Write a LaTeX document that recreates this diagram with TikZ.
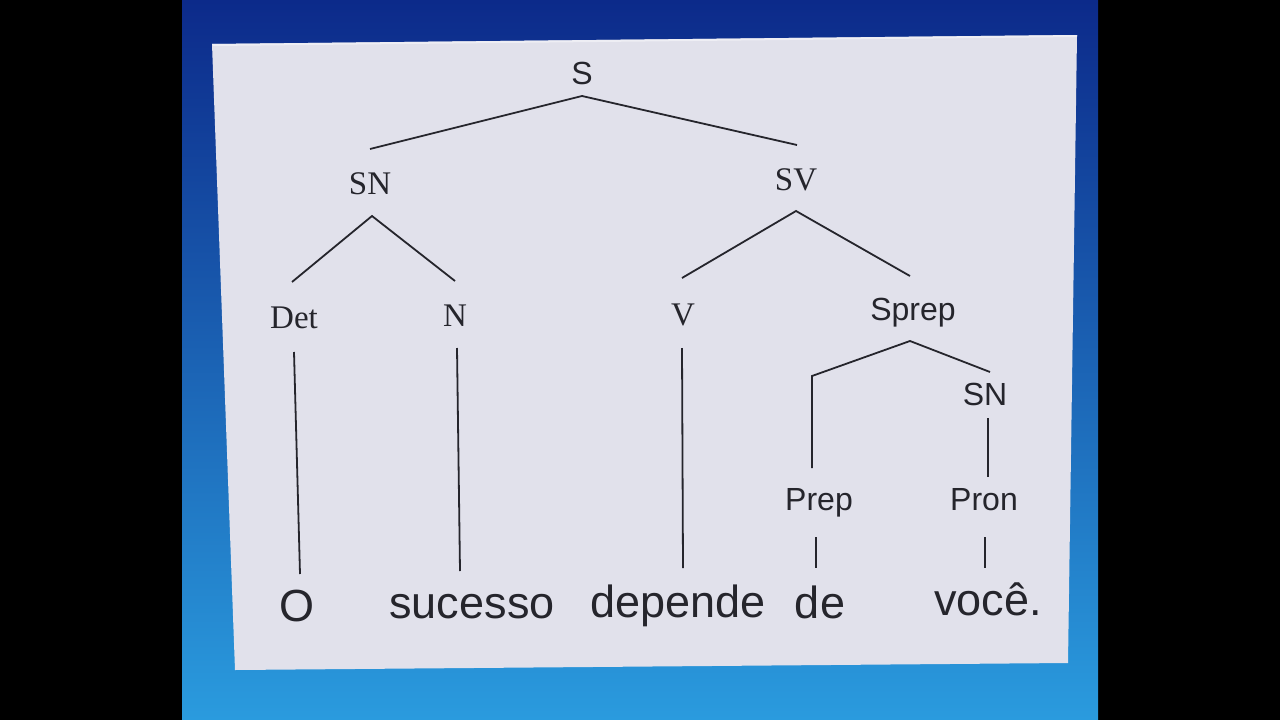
\documentclass[tikz,border=0pt]{standalone}
\usepackage{fontspec}
\setmainfont{Liberation Serif}
\newfontfamily\ars{Liberation Sans}
\definecolor{bgtop}{HTML}{0C2A8A}
\definecolor{bgmid}{HTML}{1652BE}
\definecolor{bgbot}{HTML}{2A9BDE}
\definecolor{panel}{HTML}{E1E1EB}
\definecolor{panedge}{HTML}{EEEEF4}
\definecolor{inkc}{HTML}{25252C}
\begin{document}
\begin{tikzpicture}[x=1pt,y=-1pt,
  ink/.style={draw=inkc, line width=1.8pt},
  lab/.style={anchor=base, inner sep=0pt, text=inkc},
  sanslab/.style={lab, font=\ars\fontsize{32}{38}\selectfont},
  seriflab/.style={lab, font=\fontsize{33}{39}\selectfont},
  word/.style={lab, font=\ars\fontsize{45}{54}\selectfont}]
\useasboundingbox (0,0) rectangle (1280,720);
\fill[black] (0,0) rectangle (1280,720);
\shade[top color=bgtop, middle color=bgmid, bottom color=bgbot]
  (182,0) rectangle (1098,720);
\fill[panel] (212,44) -- (1077,35) -- (1068,663) -- (235,670) -- cycle;
\fill[panedge] (212,44) -- (1077,35) -- (1077,37) -- (213,46) -- cycle;
% labels
\node[sanslab] (S) at (582,84) {S};
\node[seriflab] (SN1) at (370,194) {SN};
\node[seriflab] (SV) at (796,190) {SV};
\node[seriflab] (Det) at (294,328) {Det};
\node[seriflab] (N) at (455,326) {N};
\node[seriflab] (V) at (683,325) {V};
\node[sanslab] (Sprep) at (913,320) {Sprep};
\node[sanslab] (SN2) at (985,405) {SN};
\node[sanslab] (Prep) at (819,510) {Prep};
\node[sanslab] (Pron) at (984,510) {Pron};
\node[word] (O) at (297,621) {O};
\node[word] (sucesso) at (472,618) {sucesso};
\node[word] (depende) at (678,617) {depende};
\node[word] (de) at (820,618) {de};
\node[word] (voce) at (988,615) {você.};
% connector end points
\coordinate (Sb) at (582,96);
\coordinate (SN1t) at (370,149);
\coordinate (SVt) at (797,145);
\coordinate (SN1b) at (372,216);
\coordinate (Dett) at (292,282);
\coordinate (Nt) at (455,281);
\coordinate (SVb) at (796,211);
\coordinate (Vt) at (682,278);
\coordinate (Sprept) at (910,276);
\coordinate (Sprepb) at (910,341);
\coordinate (Prepk) at (812,376);
\coordinate (Prept) at (812,468);
\coordinate (SN2t) at (990,372);
\coordinate (SN2b) at (988,418);
\coordinate (Pront) at (988,477);
\coordinate (Pronb) at (985,537);
\coordinate (vocet) at (985,568);
\coordinate (Prepb) at (816,537);
\coordinate (det) at (816,568);
\coordinate (Detb) at (294,352);
\coordinate (Ot) at (300,574);
\coordinate (Nb) at (457,348);
\coordinate (sucessot) at (460,571);
\coordinate (Vb) at (682,348);
\coordinate (dependet) at (683,568);
% connectors
\draw[ink] (SN1t) -- (Sb) -- (SVt);
\draw[ink] (Dett) -- (SN1b) -- (Nt);
\draw[ink] (Vt) -- (SVb) -- (Sprept);
\draw[ink] (Prept) -- (Prepk) -- (Sprepb) -- (SN2t);
\draw[ink] (SN2b) -- (Pront);
\draw[ink] (Pronb) -- (vocet);
\draw[ink] (Prepb) -- (det);
\draw[ink] (Detb) -- (Ot);
\draw[ink] (Nb) -- (sucessot);
\draw[ink] (Vb) -- (dependet);
\end{tikzpicture}
\end{document}
